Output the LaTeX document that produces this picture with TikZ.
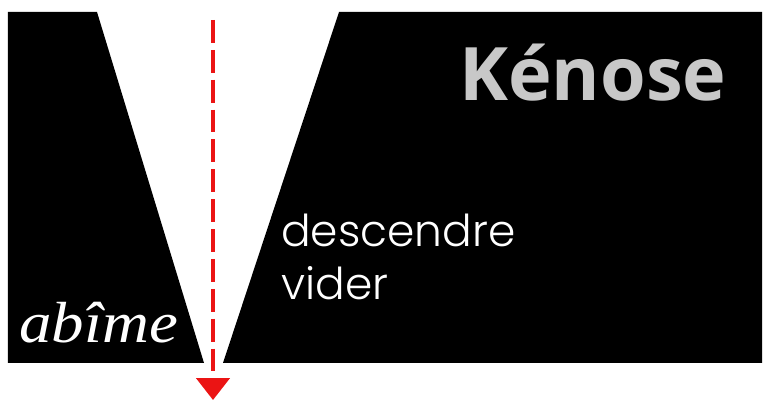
\documentclass[tikz,border=0pt]{standalone}
\usepackage{fontspec}
\newfontfamily\titrefont{Open Sans}
\newfontfamily\motfont{Poppins Light}
\newfontfamily\abimefont{Liberation Serif}
\usetikzlibrary{arrows.meta}
\definecolor{grisclair}{RGB}{200,200,200}
\definecolor{rouge}{RGB}{235,20,20}
\tikzset{
  mot/.style={text=white,inner sep=0pt,anchor=base west},
  fleche/.style={rouge,line width=2pt,dash pattern=on 13pt off 4pt,
    -{Triangle[width=19pt,length=12.5pt]}}
}
\begin{document}
\begin{tikzpicture}[x=0.02cm,y=-0.02cm]

\useasboundingbox (0,0) rectangle (769,401);

% Gauche
\fill[black] (8,12) -- (97,12) -- (204,363) -- (8,363) -- cycle;

% Droite
\fill[black] (339,12) -- (762,12) -- (762,363) -- (223,363) -- cycle;

% Textes
\node[mot,text=grisclair] (titre) at (459,101)
{\titrefont\bfseries\fontsize{42}{42}\selectfont Kénose};

\node[mot] (descendre) at (281,247)
{\motfont\fontsize{25}{25}\selectfont descendre};

\node[mot] (vider) at (281,300)
{\motfont\fontsize{25}{25}\selectfont vider};

\node[mot,xscale=1.12] (abime) at (19,343)
{\abimefont\itshape\fontsize{33}{33}\selectfont abîme};

% Descente
\coordinate (haut) at (213,20);
\coordinate (bas) at (213,400);
\draw[fleche] (haut) -- (bas);

\end{tikzpicture}
\end{document}
